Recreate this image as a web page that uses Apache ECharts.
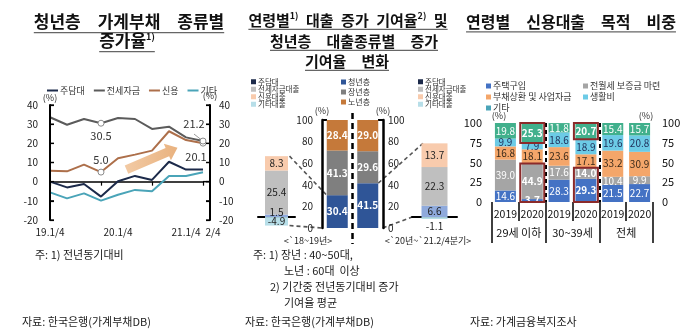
<!DOCTYPE html>
<html><head><meta charset="utf-8">
<script src="https://cdn.jsdelivr.net/npm/echarts@6/dist/echarts.min.js"></script>
<style>html,body{margin:0;padding:0;background:#fff}#c{width:700px;height:336px}</style>
</head><body><div id="c"></div>
<script>
// ---------- Panel 1: 청년층 가계부채 종류별 증가율 ----------
const quarters = ['19.1/4','19.2/4','19.3/4','19.4/4','20.1/4','20.2/4','20.3/4','20.4/4','21.1/4','2/4'];
const shownQuarterLabels = [0, 4, 8, 9];
const mortgage = [0.0, -3.0, -1.2, -7.8, 0.2, 3.0, 0.9, 10.4, 6.3, 6.3];
const jeonse   = [33.6, 29.7, 32.7, 30.5, 33.2, 32.7, 27.5, 28.7, 23.1, 21.2];
const credit   = [5.7, 5.4, 8.9, 5.0, 12.2, 14.1, 16.2, 26.3, 21.7, 20.1];
const other    = [-5.6, -8.7, -6.1, -9.9, -6.8, -4.3, -5.0, 3.0, 3.0, 4.9];
const lineNames = ['주담대', '전세자금', '신용', '기타'];
const p1Ticks = [-20, -10, 0, 10, 20, 30, 40];
const arrowFrom = [4.5, 6.3];
const arrowTo = [7.5, 17.7];

// ---------- Panel 2: 연령별 대출 증가 기여율 ----------
const periods = ['<`18~19년>', '<`20년~`21.2/4분기>'];
const ageGroups = ['청년층', '장년층', '노년층'];
const youthShare  = [30.4, 41.5];
const middleShare = [41.3, 29.6];
const seniorShare = [28.4, 29.0];
const loanTypes = ['주담대', '전세자금대출', '신용대출', '기타대출'];
const contrib1819 = [1.5, 25.4, 8.3, -4.9];
const contrib2021 = [6.6, 22.3, 13.7, -1.1];

// ---------- Panel 3: 연령별 신용대출 목적 비중 ----------
const years = ['2019', '2020', '2019', '2020', '2019', '2020'];
const ageBands = ['29세 이하', '30~39세', '전체'];
const purposes = ['주택구입', '전월세 보증금 마련', '부채상환 및 사업자금', '생활비', '기타'];
const housing = [14.6, 3.7, 28.3, 29.3, 21.5, 22.7];
const deposit = [39.0, 44.9, 17.6, 14.0, 10.4, 9.9];
const debtBiz = [16.8, 18.1, 23.6, 17.1, 33.2, 30.9];
const living  = [9.9, 7.9, 18.6, 18.9, 19.6, 20.8];
const etc     = [19.8, 25.3, 11.8, 20.7, 15.4, 15.7];
// highlighted (boxed) segments: [bar index, first purpose index, last purpose index]
const boxedSegments = [[1, 0, 1], [1, 4, 4], [3, 0, 1], [3, 4, 4]];

const FONT = '"Noto Sans CJK KR", "Noto Sans", sans-serif';
const chart = echarts.init(document.getElementById('c'));

// ----- panel 1 series -----
const lineColors = ['#1c2a4a', '#5b5b5b', '#ad6f4a', '#4aa4b8'];
const lineData = [mortgage, jeonse, credit, other];
const pointLabels = {
  1: {3: {position: 'bottom', distance: 4}, 9: {position: 'top', offset: [-9, -3]}},
  2: {3: {position: 'top', distance: 3}, 9: {position: 'bottom', offset: [-7, 0]}}
};
const lineSeries = lineData.map((arr, k) => ({
  name: lineNames[k], type: 'line', xAxisIndex: 0, yAxisIndex: 0,
  symbol: 'none', showSymbol: true, color: lineColors[k],
  lineStyle: {width: 2, color: lineColors[k]},
  z: 5 - k,
  data: arr.map((v, i) => {
    const it = {value: v};
    if (pointLabels[k] && pointLabels[k][i]) {
      it.symbol = 'circle'; it.symbolSize = 6;
      it.itemStyle = {color: '#fff', borderColor: '#8a8a8a', borderWidth: 1};
      it.label = Object.assign({show: true, fontSize: 11, color: '#333', formatter: p => p.value.toFixed(1)}, pointLabels[k][i]);
    }
    return it;
  })
}));

// ----- panel 2 series -----
const ageColors = ['#2f5597', '#7f7f7f', '#c5793a'];
const ageData = [youthShare, middleShare, seniorShare];
const mainBars = ageGroups.map((n, k) => ({
  name: n, type: 'bar', xAxisIndex: 2, yAxisIndex: 2, stack: 'age', barWidth: 21,
  itemStyle: {color: ageColors[k]}, data: ageData[k],
  label: {show: true, color: '#fff', fontSize: 10, fontWeight: 'bold', formatter: p => p.value.toFixed(1)}
}));
const loanColors = ['#8faadc', '#bfbfbf', '#f8cbad', '#b7dee8'];
function smallBars(vals, xi, yi) {
  return loanTypes.map((n, k) => {
    const v = vals[k];
    let pos = 'inside';
    if (Math.abs(v) < 2) pos = v < 0 ? 'bottom' : 'top';
    return {
      name: n, type: 'bar', xAxisIndex: xi, yAxisIndex: yi, stack: 's' + xi, barWidth: xi === 3 ? 23 : 26,
      itemStyle: {color: loanColors[k]}, data: [v],
      label: {show: true, position: pos, distance: pos === 'top' ? -3 : 2, color: '#222', fontSize: 10, formatter: p => p.value.toFixed(1)}
    };
  });
}

// ----- panel 3 series -----
const purposeColors = ['#4472c4', '#a5a5a5', '#f4a66a', '#6ccbe6', '#41b08c'];
const purposeLabelColors = ['#fff', '#fff', '#3a2a1a', '#1f2f5a', '#fff'];
const purposeData = [housing, deposit, debtBiz, living, etc];
function isBoxed(bar, k) { return boxedSegments.some(b => b[0] === bar && k >= b[1] && k <= b[2]); }
const purposeBars = purposes.map((n, k) => ({
  name: n, type: 'bar', xAxisIndex: 5, yAxisIndex: 6, stack: 'p', barWidth: 21,
  itemStyle: {color: purposeColors[k]},
  data: purposeData[k].map((v, i) => ({value: v, label: {fontWeight: isBoxed(i, k) ? 'bold' : 'normal'}})),
  label: {show: true, color: purposeLabelColors[k], fontSize: 10, formatter: p => p.value.toFixed(1)}
}));
const boxData = boxedSegments.map(b => {
  let lo = 0, hi = 0;
  for (let k = 0; k <= b[2]; k++) { if (k < b[1]) lo += purposeData[k][b[0]]; hi += purposeData[k][b[0]]; }
  return [b[0], lo, Math.min(hi, 100)];
});
const boxSeries = {
  type: 'custom', xAxisIndex: 5, yAxisIndex: 6, z: 10, silent: true, data: boxData,
  renderItem: (params, api) => {
    const top = api.coord([api.value(0), api.value(2)]);
    const bot = api.coord([api.value(0), api.value(1)]);
    const w = 24;
    return {type: 'rect', shape: {x: top[0] - w / 2, y: top[1], width: w, height: bot[1] - top[1]},
      style: {fill: 'none', stroke: '#8b2a2a', lineWidth: 2}};
  }
};

const axisLbl = {fontSize: 10, color: '#222'};
const option = {
  animation: false,
  textStyle: {fontFamily: FONT},
  grid: [
    {left: 50, top: 105, width: 153, height: 115},
    {left: 322, top: 120, width: 61, height: 108},
    {left: 258, top: 139.2, width: 37, height: 95.2},
    {left: 412, top: 139.2, width: 45, height: 95.2},
    {left: 492, top: 123, width: 161, height: 79}
  ],
  legend: [
    {data: lineNames, left: 42, top: 81, icon: 'rect', itemWidth: 11, itemHeight: 2, itemGap: 9, selectedMode: false,
      textStyle: {fontSize: 9, color: '#333', padding: [0, 0, 0, -3]}},
    {data: loanTypes, orient: 'vertical', left: 246, top: 73, icon: 'rect', itemWidth: 5, itemHeight: 5, itemGap: 0, selectedMode: false,
      textStyle: {fontSize: 7.5, lineHeight: 7, color: '#333', padding: [0, 0, 0, -3]}},
    {data: ageGroups, orient: 'vertical', left: 336, top: 73, icon: 'rect', itemWidth: 5, itemHeight: 5, itemGap: 2, selectedMode: false,
      textStyle: {fontSize: 8, lineHeight: 8, color: '#333', padding: [0, 0, 0, -3]}},
    {data: loanTypes, orient: 'vertical', left: 413, top: 73, icon: 'rect', itemWidth: 5, itemHeight: 5, itemGap: 0, selectedMode: false,
      textStyle: {fontSize: 7.5, lineHeight: 7, color: '#333', padding: [0, 0, 0, -3]}},
    {data: [purposes[0], purposes[2], purposes[4]], orient: 'vertical', left: 481, top: 76, icon: 'rect', itemWidth: 5, itemHeight: 5, itemGap: 1, selectedMode: false,
      textStyle: {fontSize: 9, lineHeight: 10, color: '#333', padding: [0, 0, 0, -3]}},
    {data: [purposes[1], purposes[3]], orient: 'vertical', left: 578, top: 76, icon: 'rect', itemWidth: 5, itemHeight: 5, itemGap: 1, selectedMode: false,
      textStyle: {fontSize: 9, lineHeight: 10, color: '#333', padding: [0, 0, 0, -3]}}
  ],
  xAxis: [
    {gridIndex: 0, type: 'category', data: quarters, boundaryGap: false, position: 'bottom',
      axisLine: {show: false, onZero: false}, axisTick: {show: false},
      axisLabel: {interval: (i) => shownQuarterLabels.includes(i), margin: 7, fontSize: 10, color: '#222',
        formatter: (v, i) => i === quarters.length - 1 ? '{r|' + v + '}' : v,
        rich: {r: {padding: [0, 0, 0, 20], fontSize: 10, color: '#222'}}}},
    {gridIndex: 0, type: 'category', data: quarters, boundaryGap: false, position: 'bottom',
      axisLine: {onZero: true, lineStyle: {color: '#000', width: 1.5}},
      axisTick: {show: true, length: 4, lineStyle: {color: '#000', width: 1.2}}, axisLabel: {show: false}},
    {gridIndex: 1, type: 'category', data: periods, axisLine: {show: false}, axisTick: {show: false}, axisLabel: {show: false}},
    {gridIndex: 2, type: 'category', data: [periods[0]], axisLine: {onZero: true, lineStyle: {color: '#000', width: 2}}, axisTick: {show: false}, axisLabel: {show: false}},
    {gridIndex: 3, type: 'category', data: [periods[1]], axisLine: {onZero: true, lineStyle: {color: '#000', width: 2}}, axisTick: {show: false}, axisLabel: {show: false}},
    {gridIndex: 4, type: 'category', data: years, position: 'bottom', axisLine: {show: false},
      axisTick: {show: true, interval: 0, length: 19, lineStyle: {color: '#000', width: 1.5}},
      axisLabel: {interval: 0, margin: 7, fontSize: 10.5, color: '#111'}},
    {gridIndex: 4, type: 'category', data: ageBands, position: 'bottom', axisLine: {show: false},
      axisTick: {show: true, interval: 0, length: 41, lineStyle: {color: '#000', width: 1.5}},
      axisLabel: {interval: 0, margin: 25, fontSize: 11, color: '#111'},
      splitLine: {show: true, interval: 0, lineStyle: {color: ['rgba(0,0,0,0)', '#000', '#000', 'rgba(0,0,0,0)'], type: [4, 3], width: 2}}}
  ],
  yAxis: [
    {gridIndex: 0, type: 'value', min: -20, max: 40, interval: 10, position: 'left', name: '(%)', nameGap: 3,
      nameTextStyle: {fontSize: 9, color: '#333'}, axisLine: {show: true, onZero: false, lineStyle: {color: '#000', width: 2}},
      axisTick: {show: true, inside: true, length: 4, lineStyle: {color: '#000', width: 1.2}},
      axisLabel: Object.assign({margin: 12}, axisLbl), splitLine: {show: false}},
    {gridIndex: 0, type: 'value', min: -20, max: 40, interval: 10, position: 'right', offset: 7, name: '(%)', nameGap: 3,
      nameTextStyle: {fontSize: 9, color: '#333'}, axisLine: {show: true, onZero: false, lineStyle: {color: '#000', width: 2}},
      axisTick: {show: true, inside: true, length: 4, lineStyle: {color: '#000', width: 1.2}},
      axisLabel: Object.assign({margin: 9}, axisLbl), splitLine: {show: false}},
    {gridIndex: 1, type: 'value', min: 0, max: 100, interval: 20, position: 'left', name: '(%)', nameGap: 3,
      nameTextStyle: {fontSize: 9, color: '#333'}, axisLine: {show: true, lineStyle: {color: '#000', width: 2.5}},
      axisTick: {show: true, inside: true, length: 5, customValues: [100], lineStyle: {color: '#000', width: 2}},
      axisLabel: Object.assign({margin: 9}, axisLbl), splitLine: {show: false}},
    {gridIndex: 1, type: 'value', min: 0, max: 100, interval: 20, position: 'right', name: '(%)', nameGap: 3,
      nameTextStyle: {fontSize: 9, color: '#333'}, axisLine: {show: true, lineStyle: {color: '#000', width: 2.5}},
      axisTick: {show: true, inside: true, length: 5, customValues: [100], lineStyle: {color: '#000', width: 2}},
      axisLabel: Object.assign({margin: 5}, axisLbl), splitLine: {show: false}},
    {gridIndex: 2, type: 'value', min: -10, max: 45, show: false},
    {gridIndex: 3, type: 'value', min: -10, max: 45, show: false},
    {gridIndex: 4, type: 'value', min: 0, max: 100, interval: 25, position: 'left', name: '(%)', nameGap: 3,
      nameTextStyle: {fontSize: 9, color: '#333', padding: [0, 0, 0, 14]}, axisLine: {show: false}, axisTick: {show: false},
      axisLabel: {margin: 10, fontSize: 11, color: '#111'}, splitLine: {show: false}},
    {gridIndex: 4, type: 'value', min: 0, max: 100, interval: 25, position: 'right', name: '(%)', nameGap: 3,
      nameTextStyle: {fontSize: 9, color: '#333', padding: [0, 14, 0, 0]}, axisLine: {show: false}, axisTick: {show: false},
      axisLabel: {margin: 9, fontSize: 11, color: '#111'}, splitLine: {show: false}}
  ],
  series: [].concat(lineSeries, mainBars, smallBars(contrib1819, 3, 4), smallBars(contrib2021, 4, 5), purposeBars, [boxSeries])
};
chart.setOption(option);

// ---------- decorations: titles, notes, connectors ----------
const cv = document.createElement('canvas').getContext('2d');
function tw(t, size, weight) { cv.font = (weight || 'normal') + ' ' + size + 'px ' + FONT; return cv.measureText(t).width; }
const g = [];
function title(cx, y, parts, size) {
  let str = '', w = 0;
  parts.forEach(p => {
    if (p[1]) { str += '{sup|' + p[0] + '}'; w += tw(p[0], 9, 'bold'); }
    else { str += p[0]; w += tw(p[0], size, 'bold'); }
  });
  g.push({type: 'text', x: cx, y: y, style: {text: str, fontSize: size, fontWeight: 'bold', fontFamily: FONT, fill: '#111',
    align: 'center', verticalAlign: 'middle',
    rich: {sup: {fontSize: 9, fontWeight: 'bold', fontFamily: FONT, fill: '#111', padding: [0, 0, 9, 0]}}}});
  const uy = y + size * 0.62;
  g.push({type: 'line', shape: {x1: cx - w / 2, y1: uy, x2: cx + w / 2, y2: uy}, style: {stroke: '#666', lineWidth: 1.3}});
}
const S3 = '\u3000', S2 = '\u2002';
title(129, 22, [['청년층' + S3 + '가계부채' + S3 + '종류별']], 17);
title(127, 41, [['증가율'], ['1)', 1]], 17);
title(348, 20, [['연령별'], ['1)', 1], [S2 + '대출' + S2 + '증가' + S2 + '기여율'], ['2)', 1], [S2 + '및']], 15);
title(354, 41, [['청년층' + S3 + '대출종류별' + S3 + '증가']], 15);
title(347, 61, [['기여율' + S3 + '변화']], 15);
title(571, 22, [['연령별' + S3 + '신용대출' + S3 + '목적' + S3 + '비중']], 16);

function note(x, y, t) {
  g.push({type: 'text', x: x, y: y, style: {text: t, fontSize: 11, fontFamily: FONT, fill: '#1a1a1a', align: 'left', verticalAlign: 'middle'}});
}
note(35, 255, '주: 1) 전년동기대비');
note(22, 322, '자료: 한국은행(가계부채DB)');
note(253, 255, '주: 1) 장년 : 40~50대,');
note(284, 271, '노년 : 60대  이상');
note(270, 287, '2) 기간중 전년동기대비 증가');
note(284, 303, '기여율 평균');
note(245, 322, '자료: 한국은행(가계부채DB)');
note(470, 322, '자료: 가계금융복지조사');

// series index bookkeeping
const SI_MAIN = lineSeries.length;               // first main bar series
const SI_SL = SI_MAIN + mainBars.length;         // first small-left bar series
const SI_SR = SI_SL + loanTypes.length;          // first small-right bar series

// panel 1 axes, arrow, zero line extension, leader line
const p = (si, x, y) => chart.convertToPixel({seriesIndex: si}, [x, y]);
const q0 = p(0, 0, 0), q1 = p(0, 1, 0);
const dx = q1[0] - q0[0];
const fx = (i) => q0[0] + i * dx;
const fy = (v) => p(0, 0, v)[1];
(function () {
  const last = quarters.length - 1;
  const xl = fx(0), xr = fx(last) + 7;
  const yt = fy(p1Ticks[p1Ticks.length - 1]), yb = fy(p1Ticks[0]);
  const ax = {stroke: '#000', lineWidth: 2};
  g.push({type: 'line', z: 20, shape: {x1: xl, y1: yt, x2: xl, y2: yb}, style: ax});
  g.push({type: 'line', z: 20, shape: {x1: xr, y1: yt, x2: xr, y2: yb}, style: ax});
  p1Ticks.forEach(t => {
    const y = fy(t);
    g.push({type: 'line', z: 20, shape: {x1: xl, y1: y, x2: xl + 4, y2: y}, style: {stroke: '#000', lineWidth: 1.3}});
    g.push({type: 'line', z: 20, shape: {x1: xr - 4, y1: y, x2: xr, y2: y}, style: {stroke: '#000', lineWidth: 1.3}});
  });
  const a = [fx(arrowFrom[0]), fy(arrowFrom[1])], b = [fx(arrowTo[0]), fy(arrowTo[1])];
  const L = Math.hypot(b[0] - a[0], b[1] - a[1]);
  const d = [(b[0] - a[0]) / L, (b[1] - a[1]) / L], n = [-d[1], d[0]];
  const hl = 11, sw = 4.5, hw = 9;
  const c = [b[0] - d[0] * hl, b[1] - d[1] * hl];
  g.push({type: 'polygon', z: 3, shape: {points: [
    [a[0] + n[0] * sw, a[1] + n[1] * sw], [c[0] + n[0] * sw, c[1] + n[1] * sw], [c[0] + n[0] * hw, c[1] + n[1] * hw], b,
    [c[0] - n[0] * hw, c[1] - n[1] * hw], [c[0] - n[0] * sw, c[1] - n[1] * sw], [a[0] - n[0] * sw, a[1] - n[1] * sw]]},
    style: {fill: new echarts.graphic.LinearGradient(0, 0, 1, 0, [{offset: 0, color: '#f2caa4'}, {offset: 1, color: '#e9b27f'}])}});
  const z0 = fy(0);
  g.push({type: 'line', shape: {x1: fx(last), y1: z0, x2: xr, y2: z0}, style: {stroke: '#000', lineWidth: 1.5}});
  const e = [fx(last), fy(jeonse[last])];
  g.push({type: 'line', shape: {x1: e[0] - 9, y1: e[1] - 7, x2: e[0] - 2, y2: e[1] - 1.5}, style: {stroke: '#999', lineWidth: 1}});
})();

// panel 2 connectors, divider, period labels
(function () {
  const sumPos = a => a.filter(v => v > 0).reduce((s, v) => s + v, 0);
  const sumNeg = a => a.filter(v => v < 0).reduce((s, v) => s + v, 0);
  const lt = p(SI_SL, 0, sumPos(contrib1819)), lb = p(SI_SL, 0, sumNeg(contrib1819));
  const rt = p(SI_SR, 0, sumPos(contrib2021)), rz = p(SI_SR, 0, 0);
  const m0 = p(SI_MAIN, 0, youthShare[0]), m0z = p(SI_MAIN, 0, 0);
  const m1 = p(SI_MAIN, 1, youthShare[1]), m1z = p(SI_MAIN, 1, 0);
  const dash = {stroke: '#555', lineWidth: 1.6, lineDash: [4, 3]};
  g.push({type: 'line', shape: {x1: lt[0] + 13, y1: lt[1], x2: m0[0] - 10.5, y2: m0[1]}, style: dash});
  g.push({type: 'line', shape: {x1: lb[0] + 13, y1: lb[1], x2: m0z[0] - 15, y2: m0z[1]}, style: dash});
  g.push({type: 'line', shape: {x1: m1[0] + 10.5, y1: m1[1], x2: rt[0] - 11.5, y2: rt[1]}, style: dash});
  g.push({type: 'line', shape: {x1: m1z[0] + 15, y1: m1z[1], x2: rz[0] - 22.5, y2: rz[1]}, style: dash});
  const mid = (m0[0] + m1[0]) / 2, top = p(SI_MAIN, 0, 100)[1];
  g.push({type: 'line', shape: {x1: mid, y1: top - 7, x2: mid, y2: m0z[1] + 16}, style: {stroke: '#000', lineWidth: 2.5, lineDash: [6, 4]}});
  g.push({type: 'text', x: 308, y: 241, style: {text: periods[0], fontSize: 9, fontFamily: FONT, fill: '#222', align: 'center', verticalAlign: 'middle'}});
  g.push({type: 'text', x: 428, y: 241, style: {text: periods[1], fontSize: 9, fontFamily: FONT, fill: '#222', align: 'center', verticalAlign: 'middle'}});
})();

chart.setOption({graphic: g});
</script></body></html>
